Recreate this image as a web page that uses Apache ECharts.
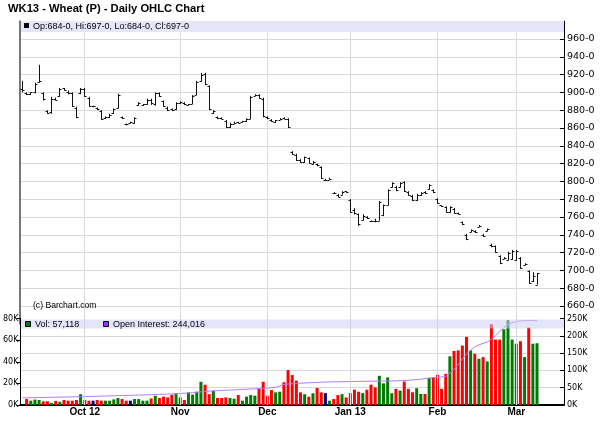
<!DOCTYPE html>
<html><head><meta charset="utf-8">
<script src="https://cdn.jsdelivr.net/npm/echarts@6/dist/echarts.min.js"></script>
<style>html,body{margin:0;padding:0;background:#fff}#c{width:600px;height:439px}</style>
</head><body><div id="c"></div>
<script>
// ---- calendar (trading days) ----
const firstDay = '2012-09-10';
const holidays = ['2012-11-22','2012-12-25','2013-01-01','2013-01-21','2013-02-18'];
const slotCount = 131; // 125 traded sessions + empty room on the right
const monthLabels = {'2012-10':'Oct 12','2012-11':'Nov','2012-12':'Dec','2013-01':'Jan 13','2013-02':'Feb','2013-03':'Mar'};

// ---- price data (cents) ----
const opens  = [904,899,898,900,912,899,879,878,893,896,905,901,899,883,899,904,894,884.5,882,879,871,872,877,882,872,865,866,866,886,886,887,892,887,899,890,883,881,881,888,888,886,887,897,913,921,907,877,872,871,868,861,865,867,867,868,870,896,897,893,872,869,867,869,871,870,833,830,824,822,826,820,819,816,802,802,787,785,785,789,779,768,763,757,760,756,756,756,762,774,794,794,794,799,788,784,779,785,788,792,790,780,773,771,766,769,764,754,740,743,744,749,740,744,729,727,716,713,712,713,712,714,706,699,688,684];
const highs  = [913,900,900,911,931,900,880,895,894,905,905,902,900,884,905,905,895,885,883,880,873,876,882,898.5,873,865,867,872,889,887,893,893,900,900,891,884,882,889,890,889,887,897,913,922,922,908,880,873,872,869,866,867,867,868,871,896,898,898,894,873,870,869,871,872,871,834,831,825,828,827,823,820,817,803,804,788,786,789,789,780,770,764,763,761,756,758,778,774,791,799,795,799,800,789,785,786,788,789,797,791,781,773,772,772,770,765,755,741,746,745,751,741,747,730,728,717,715,721,723,723,715,708,700,698,697];
const lows   = [900,897,897,899,911,891,876,876,891,895,902,898,884,871,898,895,884,884,880,869,870,871,876,882,870,863,866,865,885,885,886,886,885,895,884,879,879,880,887,886,886,887,897,912,908,880,876,870,870,860,860,865,866,867,867,870,896,893,872,870,867,866,869,870,860,830,823,821,821,820,819,817,803,801,802,786,782,785,788,765,763,750,756,758,755,754,756,761,773,793,789,793,788,784,778,778,784,786,791,787,775,772,765,765,764,763,751,734,743,742,749,738,744,726,720,707,713,711,712,711,702,706,685,687,684];
const closes = [903,898,900,909,913,893,877,893,892,904,903,899,885,872,904,896,885,885,881,870,872,875,881,897,871,864,867,871,888,887,892,888,899,896,885,880,880,888,889,887,887,896,912,920,909,881,879,871,870,861,865,866,866,868,870,895,897,894,873,871,868,869,870,870,861,831,824,822,827,821,822,818,804,802,803,787,783,788,788,766,764,752,761,759,755,755,777,773,790,798,790,798,789,785,779,785,787,787,796,788,776,772,766,771,765,763,752,735,745,743,750,739,746,727,721,708,714,720,722,722,703,707,686,694,697];

// ---- volume (contracts) & direction vs previous close: u=up, d=down, f=flat ----
const volumes = [null,5500,4000,5000,4600,3400,3400,1800,3700,3000,4600,4000,4000,4600,10000,4600,4000,4000,4600,4000,4000,4000,5200,6500,5500,4000,4000,5500,5500,4000,4000,6000,8600,6500,7700,7000,9500,10800,7000,4600,11700,9600,12300,21500,18800,10000,13200,6500,6500,7000,6500,5800,9200,4000,7700,9200,8600,14800,21500,8600,13800,11700,12300,21000,32300,27700,22500,11700,10000,7700,10800,15700,11700,11000,4000,5500,9200,10000,7000,11000,14200,12300,11000,14200,18800,16300,27000,20000,25500,10900,14900,13300,21700,14900,11800,15500,10200,10200,25000,25700,27900,14900,28800,45000,50000,50500,55000,63000,50500,47400,42800,44300,40300,74700,60500,60500,70000,78500,60500,56700,59000,44300,71600,56700,57118];
const volDir = ['d','d','u','u','u','d','d','u','d','u','d','d','d','d','u','d','d','f','d','d','u','u','u','u','d','d','f','u','u','u','u','d','u','d','d','d','d','u','u','d','u','u','u','u','d','d','u','d','d','d','u','u','d','u','u','u','u','d','d','d','d','u','u','d','d','d','d','d','u','d','u','d','d','f','u','d','d','u','d','d','d','d','u','d','d','d','u','u','u','u','d','u','d','d','d','u','u','d','u','d','d','d','d','u','d','d','d','d','u','d','u','d','u','d','d','d','u','u','u','u','d','u','d','u','u'];
const openInterest = [20500,20800,21000,21200,21500,21800,22000,22200,22500,22800,23000,23300,23500,23800,24200,24500,24700,25000,25300,25600,26000,26300,26600,27000,27300,27600,28000,28300,28600,29000,29400,29800,30200,30600,31000,31500,32000,32600,33200,33800,34500,35500,36500,38000,39000,40000,40800,41500,42000,42600,43200,43800,44400,45000,45600,46200,46800,47500,48200,49000,50000,51000,55000,59000,60500,61500,62300,63000,63600,64200,64800,65300,65800,66200,66500,66800,67000,67300,67600,67800,68000,68200,68400,68600,68800,69000,69100,69200,69300,69500,69800,70200,70800,71500,72500,73500,74500,76000,78000,79000,80000,81000,83000,92000,103000,118000,133000,148000,158000,168000,174000,178000,182000,190000,200000,212000,224000,232000,238000,241000,243000,244000,244500,244200,244016];

// ---- axis ticks ----
const priceMin = 640, priceMax = 980, priceStep = 20;
const volMax = 80000, volStep = 20000;
const oiMax = 250000, oiStep = 50000;

// build trading-day categories
function buildDates(){
  const out = [];
  const d = new Date(firstDay + 'T00:00:00Z');
  while (out.length < slotCount) {
    const s = d.toISOString().slice(0,10);
    const wd = d.getUTCDay();
    if (wd !== 0 && wd !== 6 && holidays.indexOf(s) < 0) out.push(s);
    d.setUTCDate(d.getUTCDate() + 1);
  }
  return out;
}
const dates = buildDates();
const monthStart = {};
dates.forEach((s,i)=>{ const m = s.slice(0,7); if (i>0 && m !== dates[i-1].slice(0,7) && monthLabels[m]) monthStart[i] = monthLabels[m]; });
const monthLines = Object.keys(monthStart).map(i => ({xAxis: dates[+i]}));

const ohlcData = opens.map((o,i)=>[i,o,highs[i],lows[i],closes[i]]);
const dirColor = {u:'#007a00', d:'#ff0000', f:'#000080'};
const volData = volumes.map((v,i)=>({value:v, itemStyle:{color:dirColor[volDir[i]]}}));
const fmtPrice = v => v.toFixed(0) + '-0';
const n = opens.length - 1;
const fmtNum = v => String(v).replace(/\B(?=(\d{3})+(?!\d))/g, ',');

function renderOHLC(params, api){
  const i = api.value(0);
  const o = api.coord([i, api.value(1)]);
  const h = api.coord([i, api.value(2)]);
  const l = api.coord([i, api.value(3)]);
  const c = api.coord([i, api.value(4)]);
  const x = Math.round(h[0]) + 0.5;
  const st = {stroke:'#111', lineWidth:1};
  let y2 = l[1]; if (Math.abs(y2 - h[1]) < 1.5) y2 = h[1] + 1.5;
  return {type:'group', children:[
    {type:'line', shape:{x1:x, y1:h[1], x2:x, y2:y2}, style:st},
    {type:'line', shape:{x1:x-2, y1:Math.round(o[1])+0.5, x2:x, y2:Math.round(o[1])+0.5}, style:st},
    {type:'line', shape:{x1:x, y1:Math.round(c[1])+0.5, x2:x+2, y2:Math.round(c[1])+0.5}, style:st}
  ]};
}

const gridLine = '#d9d9d9';
const chart = echarts.init(document.getElementById('c'), null, {renderer:'canvas'});
const option = {
  animation:false,
  backgroundColor:'#fff',
  grid:[
    {left:20, width:544, top:21.2, height:302.6},
    {left:20, width:544, top:318.5, height:86.5}
  ],
  xAxis:[
    {type:'category', gridIndex:0, data:dates, boundaryGap:true, axisLine:{show:false}, axisTick:{show:false}, axisLabel:{show:false}, splitLine:{show:false}},
    {type:'category', gridIndex:1, data:dates, boundaryGap:true,
      axisLine:{lineStyle:{color:'#000', width:1}}, axisTick:{show:false},
      axisLabel:{interval:(i)=>monthStart[i]!==undefined, formatter:(v,i)=>monthStart[i]||'', fontFamily:'Liberation Sans, Arial', fontWeight:'bold', fontSize:10, color:'#000', margin:2},
      splitLine:{show:false}},
    {type:'category', gridIndex:1, data:dates, position:'top', axisLine:{lineStyle:{color:'#000', width:2}}, axisTick:{show:false}, axisLabel:{show:false}}
  ],
  yAxis:[
    {type:'value', gridIndex:0, position:'right', min:priceMin, max:priceMax, interval:priceStep,
      axisLine:{show:true, lineStyle:{color:'#000'}}, axisTick:{show:true, inside:true, length:4, lineStyle:{color:'#000'}},
      axisLabel:{formatter:fmtPrice, showMinLabel:false, showMaxLabel:false, fontFamily:'DejaVu Sans', fontSize:9.5, color:'#000', margin:3},
      splitLine:{show:true, showMinLine:false, showMaxLine:false, lineStyle:{color:gridLine, width:1}}},
    {type:'value', gridIndex:0, position:'left', min:priceMin, max:priceMax, axisLine:{show:true, lineStyle:{color:'#777', width:2}}, axisTick:{show:false}, axisLabel:{show:false}, splitLine:{show:false}},
    {type:'value', gridIndex:1, position:'left', min:0, max:volMax, interval:volStep,
      axisLine:{show:true, lineStyle:{color:'#000'}}, axisTick:{show:true, length:4, lineStyle:{color:'#000'}},
      axisLabel:{formatter:v=>(v/1000)+'K', fontFamily:'DejaVu Sans', fontSize:8, color:'#000', margin:2},
      splitLine:{show:false}},
    {type:'value', gridIndex:1, position:'right', min:0, max:oiMax, interval:oiStep,
      axisLine:{show:true, lineStyle:{color:'#000'}}, axisTick:{show:true, inside:true, length:4, lineStyle:{color:'#000'}},
      axisLabel:{formatter:v=>(v/1000)+'K', fontFamily:'DejaVu Sans', fontSize:8, color:'#000', margin:3},
      splitLine:{show:true, showMinLine:false, showMaxLine:false, lineStyle:{color:gridLine}}}
  ],
  series:[
    {type:'custom', name:'OHLC', xAxisIndex:0, yAxisIndex:0, data:ohlcData, renderItem:renderOHLC, encode:{x:0, y:[1,2,3,4]}, z:5,
      markLine:{silent:true, symbol:'none', animation:false,
        data:[
          ...monthLines.map(m=>Object.assign({}, m, {lineStyle:{color:gridLine, width:1, type:'solid'}, label:{show:false}})),
          {yAxis:closes[n], lineStyle:{opacity:0}, label:{show:true, position:'end', distance:2, formatter:fmtPrice(closes[n]), color:'#fff', backgroundColor:'#000', fontFamily:'DejaVu Sans', fontSize:9.5, padding:[1,1,0,1]}}
        ]}},
    {type:'bar', name:'Vol', xAxisIndex:1, yAxisIndex:2, data:volData, barWidth:3, z:3,
      markLine:{silent:true, symbol:'none', animation:false, label:{show:false}, lineStyle:{color:gridLine, width:1, type:'solid'}, data:monthLines}},
    {type:'line', name:'Open Interest', xAxisIndex:1, yAxisIndex:3, data:openInterest, showSymbol:false, symbol:'none', lineStyle:{color:'#b27cf5', width:1}, z:4}
  ],
  graphic:[
    {type:'text', left:8, top:3, style:{text:'WK13 - Wheat (P) - Daily OHLC Chart', font:'bold 11.2px "Liberation Sans", Arial', fill:'#000'}},
    {type:'rect', shape:{x:21, y:21, width:543, height:11}, style:{fill:'#e6e6fa'}, z:10},
    {type:'rect', shape:{x:24, y:23, width:5, height:5}, style:{fill:'#000'}, z:11},
    {type:'text', x:33, y:22, style:{text:'Op:'+fmtPrice(opens[n])+', Hi:'+fmtPrice(highs[n])+', Lo:'+fmtPrice(lows[n])+', Cl:'+fmtPrice(closes[n]), font:'9px "Liberation Sans", Arial', fill:'#000'}, z:11},
    {type:'text', x:33, y:301, style:{text:'(c) Barchart.com', font:'8.6px "Liberation Sans", Arial', fill:'#000'}, z:11},
    {type:'rect', shape:{x:21, y:319.5, width:543, height:9}, style:{fill:'rgba(205,205,248,0.55)'}, z:10},
    {type:'rect', shape:{x:25.5, y:321.5, width:5, height:5}, style:{fill:'#007a00', stroke:'#000', lineWidth:1}, z:11},
    {type:'text', x:35, y:320, style:{text:'Vol: '+fmtNum(volumes[n]), font:'9px "Liberation Sans", Arial', fill:'#000'}, z:11},
    {type:'rect', shape:{x:103.5, y:321.5, width:5, height:5}, style:{fill:'#9933ff', stroke:'#000', lineWidth:1}, z:11},
    {type:'text', x:113, y:320, style:{text:'Open Interest: '+fmtNum(openInterest[n]), font:'9px "Liberation Sans", Arial', fill:'#000'}, z:11}
  ]
};
chart.setOption(option);
</script></body></html>
